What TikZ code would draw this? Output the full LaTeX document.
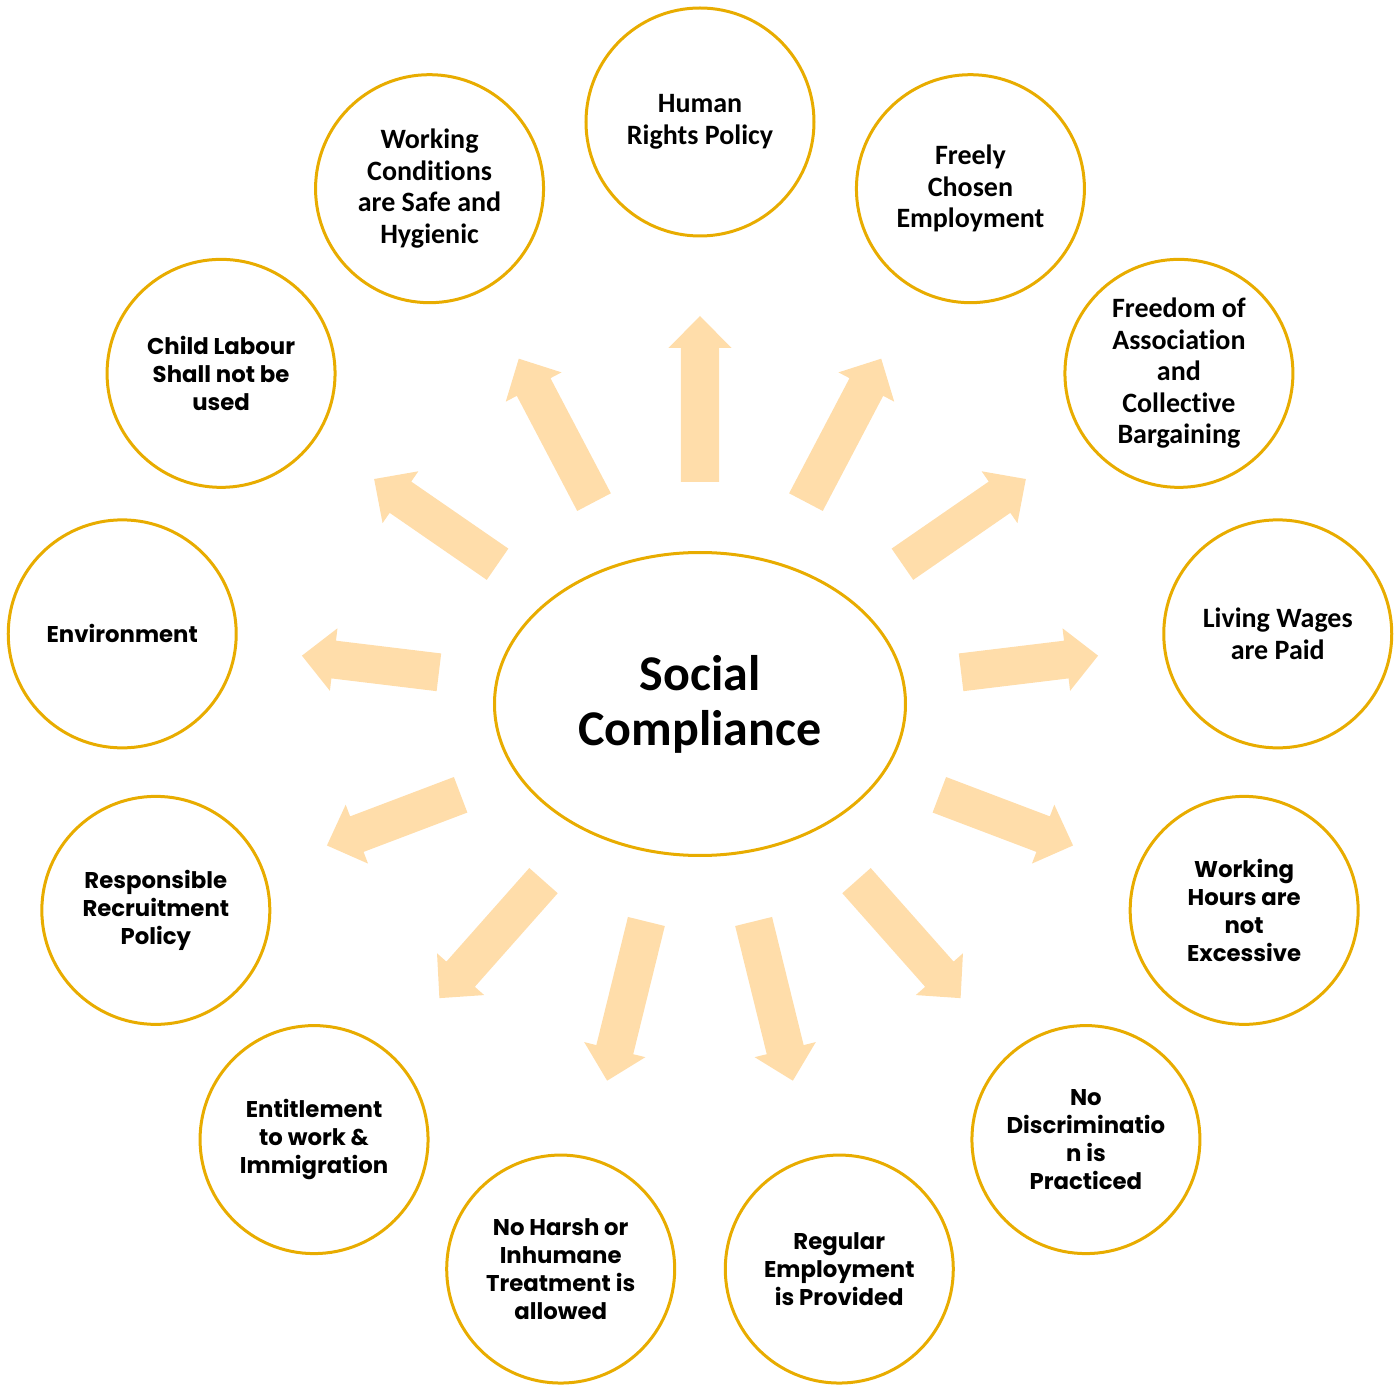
\documentclass[tikz,border=0pt]{standalone}
\usepackage{fontspec}
\setmainfont{Carlito}[RawFeature={-liga;-clig;-calt;-dlig}]
\newfontfamily\gothicfont{Poppins}[Ligatures=NoCommon]
\usetikzlibrary{shapes.geometric}
\definecolor{ringgold}{RGB}{232,172,0}
\definecolor{arrowfill}{RGB}{255,221,170}
\tikzset{
  topic/.style={circle,draw=ringgold,line width=3pt,minimum size=228pt,inner sep=0pt,align=center},
  calib/.style={font=\fontsize{28}{31.5}\selectfont\bfseries},
  gothic/.style={font=\gothicfont\fontsize{22.8}{28}\selectfont\bfseries},
}
\begin{document}
\begin{tikzpicture}[x=1pt,y=1pt]
\useasboundingbox (-700,-688) rectangle (700,704);
\node [ellipse,draw=ringgold,line width=3pt,minimum width=411pt,minimum height=303pt,
  align=center,font=\fontsize{50}{55}\selectfont\bfseries] (social) at (0,0) {Social\\Compliance};
% block arrows: angle / tail / tip
\foreach \a/\s/\e in {90/222/388, 62.31/228/390, 34.62/246/396, 6.92/263/401,
  -20.77/256/399, -48.46/236/393, -76.15/224/388, -103.85/224/388,
  -131.54/236/393, -159.23/256/399, 173.08/263/401, 145.38/246/396, 117.69/228/390}
  \fill [arrowfill,shift={(social.center)},rotate=\a] (\s,-19) -- ({\e-32},-19) -- ({\e-32},-31.5)
    -- (\e,0) -- ({\e-32},31.5) -- ({\e-32},19) -- (\s,19) -- cycle;
\node [topic,calib] (rights) at (90:582) {Human\\Rights Policy};
\node [topic,calib] (freely) at (62.31:582) {Freely\\Chosen\\Employment};
\node [topic,calib] (association) at (34.62:582) {Freedom of\\Association\\and\\Collective\\Bargaining};
\node [topic,calib] (wages) at (6.92:582) {Living Wages\\are Paid};
\node [topic,gothic] (hours) at (-20.77:582) {Working\\Hours are\\not\\Excessive};
\node [topic,gothic] (discrim) at (-48.46:582) {No\\Discriminatio\\n is\\Practiced};
\node [topic,gothic] (regular) at (-76.15:582) {Regular\\Employment\\is Provided};
\node [topic,gothic] (harsh) at (-103.85:582) {No Harsh or\\Inhumane\\Treatment is\\allowed};
\node [topic,gothic] (entitle) at (-131.54:582) {Entitlement\\to work \&\\Immigration};
\node [topic,gothic] (recruit) at (-159.23:582) {Responsible\\Recruitment\\Policy};
\node [topic,gothic] (environ) at (173.08:582) {Environment};
\node [topic,gothic] (child) at (145.38:582) {Child Labour\\Shall not be\\used};
\node [topic,calib] (safety) at (117.69:582) {Working\\Conditions\\are Safe and\\Hygienic};
\end{tikzpicture}
\end{document}
